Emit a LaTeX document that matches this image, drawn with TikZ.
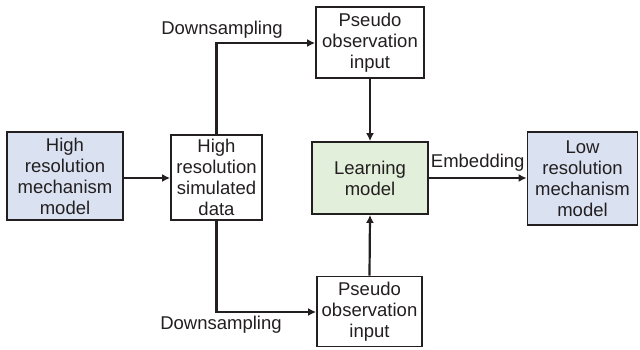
\documentclass[tikz,border=0pt]{standalone}
\usepackage{fontspec}
\setmainfont{Liberation Sans}
\usetikzlibrary{arrows.meta}
\definecolor{boxblue}{RGB}{218,226,242}
\definecolor{boxgreen}{RGB}{226,239,218}
\definecolor{ink}{RGB}{35,31,32}
\begin{document}
\begin{tikzpicture}[x=1pt,y=-1pt,
  box/.style={draw=ink,line width=1.8pt,align=center,inner sep=0pt,
    font=\fontsize{18.5}{21}\selectfont,text=ink},
  conn/.style={draw=ink,line width=2.2pt},
  arr/.style={conn,-{Latex[length=8pt,width=8pt]}},
  lab/.style={font=\fontsize{18.5}{21}\selectfont,text=ink,inner sep=0pt}]
\useasboundingbox (0,0) rectangle (640,350);
\node[box,fill=boxblue,minimum width=116pt,minimum height=88pt] (hrm) at (65,176) {High\\resolution\\mechanism\\model};
\node[box,fill=white,minimum width=91pt,minimum height=85pt] (hsd) at (216.5,177.5) {High\\resolution\\simulated\\data};
\node[box,fill=white,minimum width=108pt,minimum height=71pt] (pt) at (370,42.5) {Pseudo\\observation\\input};
\node[box,fill=boxgreen,minimum width=116pt,minimum height=72pt] (lm) at (370,178) {Learning\\model};
\node[box,fill=boxblue,minimum width=110pt,minimum height=93pt] (lrm) at (582.5,178.5) {Low\\resolution\\mechanism\\model};
\node[box,fill=white,minimum width=105pt,minimum height=70pt] (pb) at (369.5,311.5) {Pseudo\\observation\\input};
\coordinate (c1) at (216.5,43);
\coordinate (c2) at (216.5,312);
\draw[arr] (hrm.east |- 0,178) -- (hsd.west |- 0,178);
\draw[arr] (hsd.north) -- (c1) -- (pt.west |- c1);
\draw[arr] (hsd.south) -- (c2) -- (pb.west |- c2);
\draw[arr] (pt.south) -- (lm.north);
\draw[arr] (pb.north) -- (lm.south);
\draw[arr] (lm.east) -- (lrm.west |- lm.east) node[lab,midway,above=6pt] {Embedding};
\node[lab] (ds1) at (222,30) {Downsampling};
\node[lab] (ds2) at (221,325) {Downsampling};
\end{tikzpicture}
\end{document}
